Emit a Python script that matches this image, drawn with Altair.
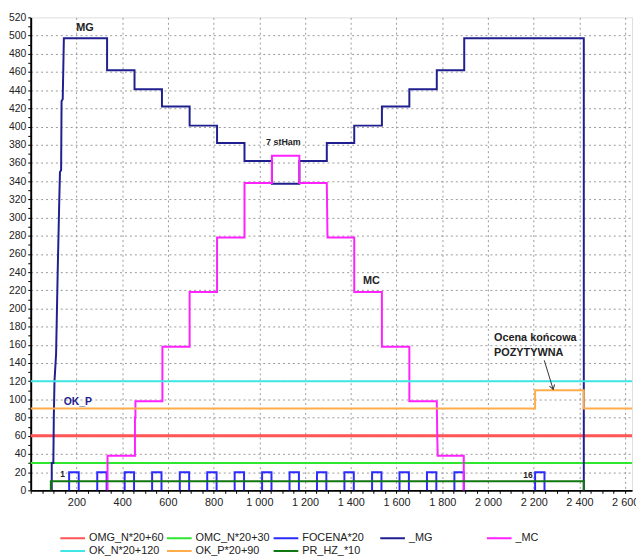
import altair as alt
import pandas as pd

FONT = "Liberation Sans"

series_names = ["OMG_N*20+60", "OMC_N*20+30", "FOCENA*20", "_MG", "_MC",
                "OK_N*20+120", "OK_P*20+90", "PR_HZ_*10"]
series_colors = ["#ff5555", "#2ee62e", "#2b2bff", "#1f1f8f", "#ff22ff",
                 "#3ee6e6", "#ffad4a", "#117711"]
series_widths = [3, 2, 2, 2, 2, 2, 2, 2]

omg_x = [0, 2630]
omg_y = [60, 60]
omc_x = [0, 2630]
omc_y = [30, 30]
okn_x = [0, 2630]
okn_y = [120, 120]
okp_x = [0, 2206, 2206, 2419, 2419, 2630]
okp_y = [90, 90, 110, 110, 90, 90]
prhz_x = [88, 88, 2419, 2419]
prhz_y = [0, 10, 10, 0]

pulse_start = [168, 291, 411, 531, 652, 772, 892, 1012, 1132, 1252, 1372, 1493, 1613, 1733, 1853, 2206]
pulse_end = [210, 332, 452, 572, 693, 813, 933, 1053, 1173, 1293, 1413, 1534, 1654, 1774, 1894, 2247]
pulse_high = 20

mg_x = [92, 92, 99, 101, 104, 111, 118, 125, 128, 133, 135, 140, 145,
        334, 334, 454, 454, 574, 574, 695, 695, 815, 815, 935, 935, 1055, 1055,
        1175, 1175, 1295, 1295, 1415, 1415, 1536, 1536, 1656, 1656, 1776, 1776,
        1896, 1896, 2419, 2419]
mg_y = [0, 30, 30, 80, 120, 150, 240, 320, 350, 352, 428, 430, 497,
        497, 462, 462, 441, 441, 422, 422, 401, 401, 382, 382, 362, 362, 337,
        337, 362, 362, 382, 382, 401, 401, 422, 422, 441, 441, 462, 462, 497,
        497, 0]

mc_x = [336, 336, 456, 456, 458, 458, 576, 576, 695, 695, 815, 815, 935, 935,
        1055, 1055, 1175, 1175, 1295, 1298, 1415, 1415, 1536, 1536, 1656, 1656,
        1776, 1778, 1780, 1894, 1894]
mc_y = [0, 38, 38, 80, 80, 98, 98, 158, 158, 218, 218, 278, 278, 338,
        338, 368, 368, 338, 338, 278, 278, 218, 218, 158, 158, 98,
        98, 60, 38, 38, 0]

rows = []


def add(series, xs, ys, grp):
    for i, (a, b) in enumerate(zip(xs, ys)):
        rows.append({"series": series, "x": a, "y": b, "grp": grp, "i": i,
                     "w": series_widths[series_names.index(series)]})


add("OMG_N*20+60", omg_x, omg_y, "omg")
add("OMC_N*20+30", omc_x, omc_y, "omc")
for k, (s, e) in enumerate(zip(pulse_start, pulse_end)):
    add("FOCENA*20", [s, s, e, e], [0, pulse_high, pulse_high, 0], f"p{k}")
add("_MG", mg_x, mg_y, "mg")
add("_MC", mc_x, mc_y, "mc")
add("OK_N*20+120", okn_x, okn_y, "okn")
add("OK_P*20+90", okp_x, okp_y, "okp")
add("PR_HZ_*10", prhz_x, prhz_y, "prhz")
df = pd.DataFrame(rows)

XMAX = 2630
YMAX = 520
xscale = alt.Scale(domain=[0, XMAX], nice=False, zero=False)
yscale = alt.Scale(domain=[0, YMAX], nice=False, zero=False)

x_axis = alt.Axis(
    values=list(range(0, 2601, 50)),
    labelExpr="datum.value % 200 == 0 && datum.value > 0 ? replace(format(datum.value, ','), ',', ' ') : ''",
    grid=True,
    gridOpacity={"condition": {"test": "datum.value % 200 == 0 && datum.value > 0", "value": 1}, "value": 0},
    gridDash=[2, 3], gridColor="#999999", gridWidth=1,
    tickSize=3, tickColor="#000000", tickWidth=1,
    domainColor="#000000", domainWidth=2,
    labelFont=FONT, labelFontSize=11, labelColor="#222222", labelPadding=3,
    labelOverlap=False, labelFlush=False, title=None,
)
y_axis = alt.Axis(
    values=list(range(0, 521, 10)),
    labelExpr="datum.value % 20 == 0 ? '' + datum.value : ''",
    grid=True,
    gridOpacity={"condition": {"test": "datum.value % 20 == 0 && datum.value > 0 && datum.value < 520", "value": 1}, "value": 0},
    gridDash=[2, 3], gridColor="#999999", gridWidth=1,
    tickSize=3, tickColor="#000000", tickWidth=1,
    domainColor="#000000", domainWidth=2,
    labelFont=FONT, labelFontSize=10.5, labelColor="#222222", labelPadding=2,
    labelOverlap=False, labelFlush=False, title=None,
)


def xe(field):
    return alt.X(field, scale=xscale, axis=x_axis)


def ye(field):
    return alt.Y(field, scale=yscale, axis=y_axis)


lines = alt.Chart(df).mark_line(interpolate="linear").encode(
    x=xe("x:Q"),
    y=ye("y:Q"),
    color=alt.Color(
        "series:N",
        scale=alt.Scale(domain=series_names, range=series_colors),
        sort=series_names,
        legend=alt.Legend(
            orient="none", legendX=29, legendY=521, columns=5, direction="horizontal",
            symbolType="stroke", symbolSize=625, symbolStrokeWidth=2,
            labelFont=FONT, labelFontSize=11, labelColor="#222222",
            gridAlign="all", columnPadding=2, rowPadding=0, padding=0,
            clipHeight=13,
            labelOffset=3, labelLimit=200, title=None,
        ),
    ),
    strokeWidth=alt.StrokeWidth("w:Q", scale=None, legend=None),
    detail="grp:N",
    order="i:Q",
)

# annotations
ann_center_text = ["MG", "MC"]
ann_center_x = [237, 1490]
ann_center_y = [508, 230]
ann_small_text = ["7 stHam"]
ann_small_x = [1105]
ann_small_y = [383]
okp_label_text = ["OK_P"]
okp_label_x = [206]
okp_label_y = [97]
pulse_label_text = ["1", "16"]
pulse_label_x = [150, 2195]
pulse_label_y = [17.5, 16.8]
ocena_text = ["Ocena końcowa", "POZYTYWNA"]
ocena_x = [2026, 2026]
ocena_y = [168, 151.5]
arrow_x = [2246]
arrow_y = [143]
arrow_x2 = [2285]
arrow_y2 = [111]


def text_layer(texts, xs, ys, size, color, align="center"):
    d = pd.DataFrame({"t": texts, "x": xs, "y": ys})
    return alt.Chart(d).mark_text(
        font=FONT, fontSize=size, fontWeight="bold", color=color, align=align, baseline="middle"
    ).encode(x=xe("x:Q"), y=ye("y:Q"), text="t:N")


t1 = text_layer(ann_center_text, ann_center_x, ann_center_y, 11, "#222222")
t2 = text_layer(ann_small_text, ann_small_x, ann_small_y, 9, "#222222")
t3 = text_layer(okp_label_text, okp_label_x, okp_label_y, 10.5, "#1f1f8f")
t4 = text_layer(pulse_label_text, pulse_label_x, pulse_label_y, 8.5, "#222222", align="right")
t5 = text_layer(ocena_text, ocena_x, ocena_y, 11, "#222222", align="left")

arrow_df = pd.DataFrame({"x": arrow_x, "y": arrow_y, "x2": arrow_x2, "y2": arrow_y2})
arrow_line = alt.Chart(arrow_df).mark_rule(color="#333333", strokeWidth=1).encode(
    x=xe("x:Q"), y=ye("y:Q"), x2="x2:Q", y2="y2:Q"
)
arrow_head = alt.Chart(arrow_df).mark_point(
    shape="M-1,-1.6L0,0L1,-1.6", filled=False, color="#333333", strokeWidth=1, size=30, angle=344, opacity=1
).encode(x=xe("x2:Q"), y=ye("y2:Q"))

chart = alt.layer(lines, arrow_line, arrow_head, t1, t2, t3, t4, t5).properties(
    width=609, height=479,
    autosize=alt.AutoSizeParams(type="none"),
    padding={"left": 23, "top": 6, "right": 4, "bottom": 67},
).configure_view(stroke="#000000", strokeWidth=1).configure(background="white")

chart.save("out.html", embed_options={"renderer": "svg", "actions": False})
